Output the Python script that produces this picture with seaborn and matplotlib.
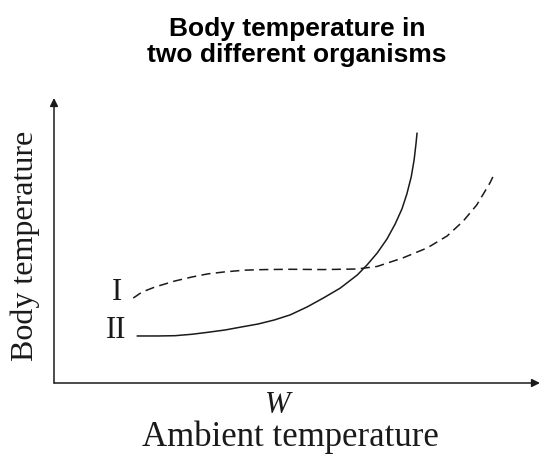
import matplotlib
matplotlib.use("Agg")
import matplotlib.pyplot as plt
import pandas as pd
import seaborn as sns

# Curve values (arbitrary units, 0-10 on both axes)
ambient_I = [1.63, 1.81, 2.08, 2.49, 2.84, 3.17, 3.52, 3.93, 4.34, 4.86, 5.54,
             6.24, 6.65, 7.18, 7.68, 8.09, 8.42, 8.70, 8.97, 9.03]
body_I = [2.98, 3.19, 3.37, 3.58, 3.72, 3.83, 3.90, 3.96, 3.98, 3.99, 3.98,
          4.00, 4.09, 4.39, 4.74, 5.16, 5.68, 6.25, 7.02, 7.23]

ambient_II = [1.71, 2.14, 2.49, 2.84, 3.17, 3.52, 3.87, 4.20, 4.53, 4.86, 5.21,
              5.54, 5.89, 6.24, 6.44, 6.65, 6.85, 7.02, 7.16, 7.26, 7.35, 7.41,
              7.45, 7.47]
body_II = [1.65, 1.65, 1.66, 1.71, 1.78, 1.86, 1.97, 2.07, 2.21, 2.39, 2.67,
           2.98, 3.33, 3.79, 4.14, 4.56, 5.05, 5.58, 6.11, 6.63, 7.23, 7.83,
           8.42, 8.77]

tick_pos = [4.61]
tick_labels = ["W"]

df_I = pd.DataFrame({"ambient": ambient_I, "body": body_I})
df_II = pd.DataFrame({"ambient": ambient_II, "body": body_II})

sns.set_style("white")
plt.rcParams["font.family"] = ["Liberation Serif", "DejaVu Serif"]
ink = "#1a1a1a"

fig = plt.figure(figsize=(5.4, 4.55), dpi=100)
ax = fig.add_axes([54 / 540, 72 / 455, 486 / 540, 285 / 455])

sns.lineplot(data=df_I, x="ambient", y="body", ax=ax, sort=False, color=ink,
             linewidth=1.1, linestyle=(0, (6, 3.5)))
sns.lineplot(data=df_II, x="ambient", y="body", ax=ax, sort=False, color=ink,
             linewidth=1.1)

ax.set_xlim(0, 10)
ax.set_ylim(0, 10)

# axes drawn as arrows
for s in ax.spines.values():
    s.set_visible(False)
ax.annotate("", xy=(1, 0), xytext=(0, 0), xycoords="axes fraction",
            arrowprops=dict(arrowstyle="-|>", color=ink, lw=1.1,
                            shrinkA=0, shrinkB=0, mutation_scale=12))
ax.annotate("", xy=(0, 1), xytext=(0, 0), xycoords="axes fraction",
            arrowprops=dict(arrowstyle="-|>", color=ink, lw=1.1,
                            shrinkA=0, shrinkB=0, mutation_scale=12))

ax.set_xticks(tick_pos)
ax.set_xticklabels(tick_labels, fontsize=22, style="italic", color=ink)
ax.set_yticks([])
ax.tick_params(axis="x", direction="out", length=4, width=1, color=ink, pad=2)

ax.set_xlabel("Ambient temperature", fontsize=25, color=ink)
ax.set_ylabel("Body temperature", fontsize=23, color=ink)
ax.xaxis.set_label_coords(0.486, -0.13)
ax.yaxis.set_label_coords(-0.029, 0.48)

ax.text(1.30, 2.91, "I", fontsize=22, ha="center", va="baseline", color=ink)
ax.text(1.28, 1.58, "II", fontsize=22, ha="center", va="baseline", color=ink)

ax.set_title("Body temperature in\ntwo different organisms", fontsize=19,
             fontweight="bold", family=["Liberation Sans", "DejaVu Sans"],
             color="black", linespacing=1.12, pad=26)

fig.savefig("out.png", dpi=100)
